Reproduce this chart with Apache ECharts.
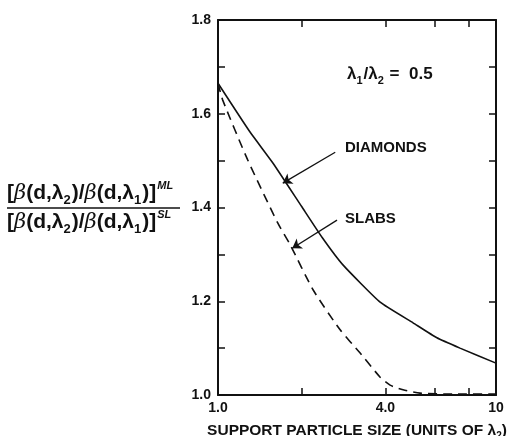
<!DOCTYPE html>
<html>
<head>
<meta charset="utf-8">
<script src="https://cdn.jsdelivr.net/npm/echarts@6/dist/echarts.min.js"></script>
<style>
  html, body { margin: 0; padding: 0; background: #fff; }
  #chart { width: 512px; height: 436px; }
</style>
</head>
<body>
<div id="chart"></div>
<script>
// Support particle size (units of lambda2) and the ML/SL ratio for each geometry
const diamondSizes = [1.0, 1.3, 1.58, 2.0, 2.37, 2.82, 3.83, 5.03, 6.13, 7.42, 10];
const diamondRatio = [1.665, 1.562, 1.494, 1.402, 1.336, 1.277, 1.198, 1.154, 1.122, 1.100, 1.068];

const slabSizes = [1.0, 1.04, 1.28, 1.64, 1.82, 2.2, 2.75, 3.24, 3.83, 4.16, 4.63, 5.33, 7.0, 10];
const slabRatio = [1.665, 1.629, 1.501, 1.367, 1.320, 1.224, 1.139, 1.090, 1.038, 1.021, 1.011, 1.004, 1.002, 1.002];

// Axis ticks and labels
const xLabelValues = [1, 4, 10];
const xLabelText = { 1: '1.0', 4: '4.0', 10: '10' };
const xMinorTicks = [2, 4, 6, 8];
const yLabelValues = [1.0, 1.2, 1.4, 1.6, 1.8];

// Callout arrows: [tail, head] in data units
const diamondArrow = [[2.64, 1.518], [1.71, 1.452]];
const slabArrow = [[2.68, 1.373], [1.85, 1.313]];

const FONT = '"Liberation Sans", Arial, Helvetica, sans-serif';
const INK = '#111';

function zip(xs, ys) { return xs.map((x, i) => [x, ys[i]]); }

const chart = echarts.init(document.getElementById('chart'), null, { renderer: 'canvas' });

const axisLineStyle = { color: INK, width: 2 };

function xAxisBase(position, showLabels) {
  return {
    type: 'log',
    logBase: 10,
    min: 1,
    max: 10,
    position: position,
    axisLine: { show: true, onZero: false, lineStyle: axisLineStyle },
    axisTick: { show: true, inside: true, length: 7, customValues: xMinorTicks, lineStyle: { color: INK, width: 1.5 } },
    axisLabel: showLabels ? {
      show: true,
      customValues: xLabelValues,
      formatter: v => xLabelText[Math.round(v)] || '',
      color: INK, fontFamily: FONT, fontWeight: 'bold', fontSize: 14, margin: 6
    } : { show: false },
    splitLine: { show: false },
    minorSplitLine: { show: false }
  };
}

function yAxisBase(position, showLabels) {
  return {
    type: 'value',
    min: 1.0,
    max: 1.8,
    interval: 0.1,
    position: position,
    axisLine: { show: true, onZero: false, lineStyle: axisLineStyle },
    axisTick: { show: true, inside: true, length: 7, lineStyle: { color: INK, width: 1.5 } },
    axisLabel: showLabels ? {
      show: true,
      customValues: yLabelValues,
      formatter: v => v.toFixed(1),
      color: INK, fontFamily: FONT, fontWeight: 'bold', fontSize: 14, margin: 7
    } : { show: false },
    splitLine: { show: false }
  };
}

const xBottom = xAxisBase('bottom', true);
xBottom.name = '{t|SUPPORT PARTICLE SIZE (UNITS OF λ}{s|2}{t|)}';
xBottom.nameLocation = 'middle';
xBottom.nameGap = 26;
xBottom.nameTextStyle = {
  rich: {
    t: { color: INK, fontFamily: FONT, fontWeight: 'bold', fontSize: 15.5, lineHeight: 20 },
    s: { color: INK, fontFamily: FONT, fontWeight: 'bold', fontSize: 10, lineHeight: 20, verticalAlign: 'bottom', padding: [4, 0, 0, 0] }
  }
};

const arrowLine = (pts) => ({
  silent: true,
  symbol: ['none', 'arrow'],
  symbolSize: 9,
  label: { show: false },
  lineStyle: { color: INK, width: 1.3, type: 'solid' },
  itemStyle: { color: INK },
  data: [[{ coord: pts[0] }, { coord: pts[1] }]]
});

// Rich-text styles for sub/superscripted formulas
function formulaRich(size) {
  return {
    t: { fontFamily: FONT, fontWeight: 'bold', fontSize: size, fill: INK, lineHeight: size + 6 },
    g: { fontFamily: '"DejaVu Serif", serif', fontStyle: 'italic', fontSize: size, fill: INK, lineHeight: size + 6 },
    b: { fontFamily: FONT, fontWeight: 'bold', fontSize: Math.round(size * 0.62), fill: INK, lineHeight: size + 6, verticalAlign: 'bottom', padding: [0, 1, 0, 0] },
    p: { fontFamily: FONT, fontStyle: 'italic', fontWeight: 'bold', fontSize: Math.round(size * 0.5), fill: INK, lineHeight: size + 6, verticalAlign: 'top', padding: [0, 0, 0, 1] }
  };
}

const option = {
  animation: false,
  backgroundColor: '#fff',
  grid: { left: 218, right: 16, top: 20, bottom: 41, containLabel: false, outerBoundsMode: 'none' },
  xAxis: [xBottom, xAxisBase('top', false)],
  yAxis: [yAxisBase('left', true), yAxisBase('right', false)],
  series: [
    {
      name: 'DIAMONDS',
      type: 'line',
      xAxisIndex: 0,
      yAxisIndex: 0,
      data: zip(diamondSizes, diamondRatio),
      showSymbol: false,
      smooth: 0.15,
      lineStyle: { color: INK, width: 1.6, type: 'solid' },
      markLine: arrowLine(diamondArrow)
    },
    {
      name: 'SLABS',
      type: 'line',
      xAxisIndex: 0,
      yAxisIndex: 0,
      data: zip(slabSizes, slabRatio),
      showSymbol: false,
      smooth: 0.2,
      lineStyle: { color: INK, width: 1.6, type: [9, 6] },
      markLine: arrowLine(slabArrow)
    }
  ],
  graphic: [
    {
      type: 'text',
      left: 347, top: 66,
      style: {
        text: '{t|λ}{b|1}{t|/λ}{b|2}{t| =  0.5}',
        rich: formulaRich(17)
      }
    },
    {
      type: 'text',
      left: 345, top: 140,
      style: { text: 'DIAMONDS', fontFamily: FONT, fontWeight: 'bold', fontSize: 15, fill: INK }
    },
    {
      type: 'text',
      left: 345, top: 211,
      style: { text: 'SLABS', fontFamily: FONT, fontWeight: 'bold', fontSize: 15, fill: INK }
    },
    // y-axis quantity written as a fraction
    {
      type: 'text',
      left: 7, top: 180,
      style: {
        text: '{t|[}{g|β}{t|(d,λ}{b|2}{t|)/}{g|β}{t|(d,λ}{b|1}{t|)]}{p|ML}',
        rich: formulaRich(21)
      }
    },
    {
      type: 'line',
      shape: { x1: 7, y1: 208, x2: 180, y2: 208 },
      style: { stroke: INK, lineWidth: 1.5 }
    },
    {
      type: 'text',
      left: 7, top: 209,
      style: {
        text: '{t|[}{g|β}{t|(d,λ}{b|2}{t|)/}{g|β}{t|(d,λ}{b|1}{t|)]}{p|SL}',
        rich: formulaRich(21)
      }
    }
  ]
};

chart.setOption(option);
</script>
</body>
</html>
